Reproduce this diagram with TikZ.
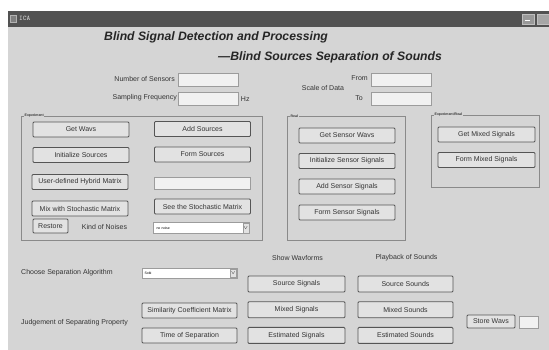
\documentclass[tikz,border=0pt]{standalone}
\usepackage{fontspec}
\setmainfont{Liberation Sans}
\usetikzlibrary{positioning}
\definecolor{winface}{HTML}{D5D5D5}
\definecolor{barface}{HTML}{525252}
\definecolor{btnface}{HTML}{E2E2E2}
\definecolor{btnedge}{HTML}{555555}
\definecolor{editface}{HTML}{F1F1F1}
\definecolor{editedge}{HTML}{9C9C9C}
\definecolor{groupedge}{HTML}{8A8A8A}
\definecolor{inktext}{HTML}{333333}
\tikzset{
  lbl/.style={inner sep=0pt, text=inktext, font=\fontsize{7}{8}\selectfont},
  btn/.style={draw=btnedge, fill=btnface, line width=0.9pt, rounded corners=1pt,
    minimum width=96pt, minimum height=15pt, inner sep=0pt, text=inktext,
    font=\fontsize{7}{8}\selectfont},
  editbox/.style={draw=editedge, fill=editface, line width=0.5pt,
    minimum width=60pt, minimum height=13pt, inner sep=0pt},
  popup/.style={draw=editedge, fill=white, line width=0.5pt,
    minimum width=96pt, minimum height=11pt, inner sep=1.5pt,
    text width=90pt, align=left, font=\fontsize{3.5}{4}\selectfont},
  groupbox/.style={draw=groupedge, line width=0.6pt},
  grouplbl/.style={fill=winface, inner sep=0.5pt, anchor=west,
    font=\fontsize{3.5}{4}\selectfont\bfseries, text=inktext},
  heading/.style={anchor=west, inner sep=0pt, text=black!85,
    font=\fontsize{12.2}{14}\selectfont\bfseries\itshape},
}
\newcommand{\droparrow}[1]{%
  \draw[editedge, fill=btnface] ([xshift=-7pt,yshift=-1pt]#1.north east)
    rectangle ([xshift=-1pt,yshift=1pt]#1.south east);
  \node[inner sep=0pt, font=\fontsize{3}{3}\selectfont] at
    ([xshift=-4pt]#1.east) {$\vee$};}

\begin{document}
\begin{tikzpicture}[x=1pt, y=-1pt]
  \useasboundingbox (0,0) rectangle (549,350);
  % window and title bar
  \fill[white] (0,0) rectangle (549,350);
  \fill[winface] (8,27) rectangle (549,350);
  \fill[barface] (8,11) rectangle (549,27);
  \draw[gray!60, fill=gray] (10.5,15) rectangle (16.5,22);
  \node[anchor=west, inner sep=0pt, text=gray!30,
        font=\fontsize{7}{7}\selectfont\ttfamily] (wintitle) at (19,18.5) {ICA};
  \draw[gray!50, fill=gray!80] (522,14) rectangle (534,24);
  \draw[white, line width=1pt] (525,21) -- (530,21);
  \draw[gray!50, fill=gray!70] (537,14) rectangle (549,24);

  % headings
  \node[heading] (head) at (104,37.5) {Blind Signal Detection and Processing};
  \node[heading] (subhead) at (218,57) {---Blind Sources Separation of Sounds};

  % parameters
  \node[editbox] (nsens) at (208.5,80) {};
  \node[lbl, anchor=east] (nsenslbl) at (175,78.5) {Number of Sensors};
  \node[editbox] (sfreq) at (208.5,99) {};
  \node[lbl, anchor=east] (sfreqlbl) at (177,97.5) {Sampling Frequency};
  \node[lbl, anchor=west, right=2pt of sfreq] (hz) {Hz};
  \node[editbox] (from) at (401,80) {};
  \node[lbl, anchor=east] (fromlbl) at (368,78.5) {From};
  \node[editbox] (to) at (401,99) {};
  \node[lbl, anchor=east] (tolbl) at (363,98) {To};
  \node[lbl] (scalelbl) at (323,88) {Scale of Data};

  % group boxes
  \draw[groupbox] (21,116) rectangle (262,240);
  \node[grouplbl] (explbl) at (24,116) {Experiment};
  \draw[groupbox] (287,116) rectangle (405,240);
  \node[grouplbl] (reallbl) at (290,116) {Real};
  \draw[groupbox] (431,115) rectangle (539,187);
  \node[grouplbl] (explreallbl) at (434,115) {Experiment/Real};

  % experiment buttons
  \foreach \name/\lab/\col/\row in {getwavs/Get Wavs/81/129.5,
      addsrc/Add Sources/202.5/129, initsrc/Initialize Sources/81/155,
      formsrc/Form Sources/202.5/154.5,
      userhyb/User-defined Hybrid Matrix/80/182,
      mixstoch/Mix with Stochastic Matrix/80/208.5,
      seestoch/See the Stochastic Matrix/202.5/206.5}{%
    \node[btn] (\name) at (\col,\row) {\lab};}
  \node[editbox, minimum width=96pt, minimum height=12pt] (hybedit) at (202,183) {};
  \node[btn, minimum width=35pt, minimum height=14pt] (restore) at (50.5,226) {Restore};
  \node[lbl] (noiselbl) at (104.5,227) {Kind of Noises};
  \node[popup] (noisepop) at (201.5,228) {no noise};
  \droparrow{noisepop}

  % real buttons
  \foreach \name/\lab/\row in {getsens/Get Sensor Wavs/135.5,
      initsens/Initialize Sensor Signals/161, addsens/Add Sensor Signals/186.5,
      formsens/Form Sensor Signals/212.5}{%
    \node[btn] (\name) at (347,\row) {\lab};}

  % experiment/real buttons
  \foreach \name/\lab/\row in {getmix/Get Mixed Signals/134.5,
      formmix/Form Mixed Signals/160}{%
    \node[btn, minimum width=97pt] (\name) at (486.5,\row) {\lab};}

  % separation
  \node[lbl, anchor=west] (alglbl) at (21,273) {Choose Separation Algorithm};
  \node[popup, minimum width=95pt, minimum height=10pt] (algpop) at (189.5,273) {Sobi};
  \droparrow{algpop}
  \node[lbl, anchor=west] (judgelbl) at (21,323) {Judgement of Separating Property};
  \node[btn, minimum width=95pt] (simcoef) at (189.5,310.5) {Similarity Coefficient Matrix};
  \node[btn, minimum width=95pt] (timesep) at (189.5,335.5) {Time of Separation};

  % waveforms and sounds
  \node[lbl] (showlbl) at (297.5,258) {Show Wavforms};
  \node[lbl] (playlbl) at (406.5,258) {Playback of Sounds};
  \foreach \kind/\what [count=\row from 0] in {src/Source, mix/Mixed, est/Estimated}{%
    \node[btn, minimum width=97pt, minimum height=16pt] (\kind sig)
      at (296.5,284+25.7*\row) {\what{} Signals};
    \node[btn, minimum width=95pt, minimum height=16pt] (\kind snd)
      at (405.5,284+25.7*\row) {\what{} Sounds};}
  \node[btn, minimum width=48pt, minimum height=13pt] (storewavs) at (491,321.5) {Store Wavs};
  \node[editbox, minimum width=19pt, minimum height=12pt] (storeedit) at (528.5,322) {};
\end{tikzpicture}
\end{document}
